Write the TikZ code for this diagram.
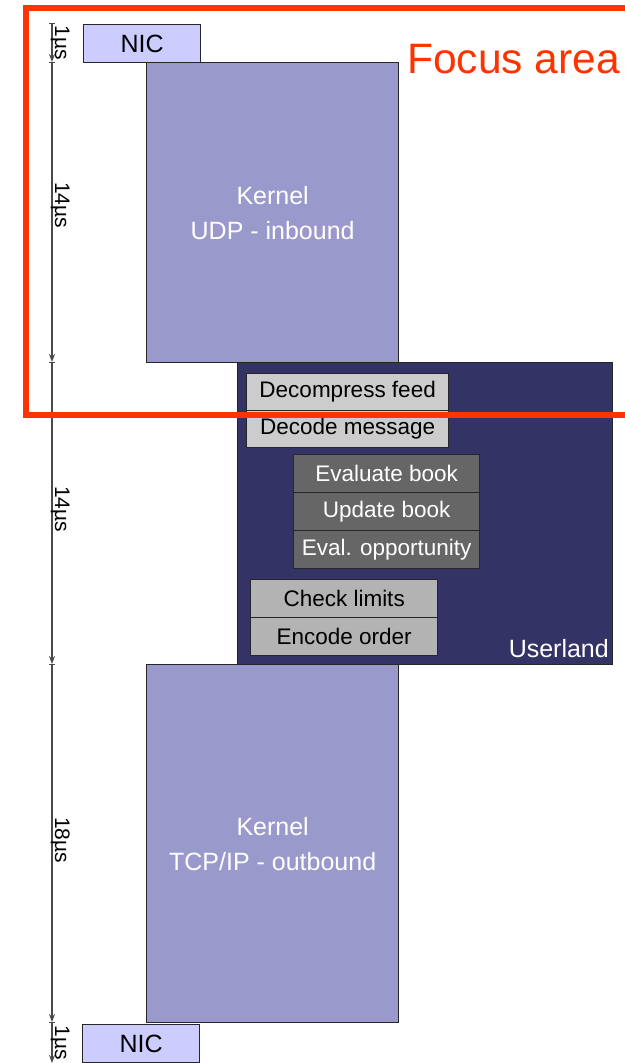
\documentclass[tikz,border=0pt]{standalone}
\usepackage{fontspec}
\setmainfont{Liberation Sans}
\usetikzlibrary{arrows.meta}
\definecolor{nicfill}{HTML}{CCCCFF}
\definecolor{kernfill}{HTML}{9999CC}
\definecolor{userfill}{HTML}{333366}
\definecolor{lightbox}{HTML}{CCCCCC}
\definecolor{darkbox}{HTML}{666666}
\definecolor{midbox}{HTML}{B3B3B3}
\definecolor{focusred}{HTML}{FF3300}
\definecolor{axisgray}{HTML}{4A4A4A}
\begin{document}
\begin{tikzpicture}[x=1bp,y=-1bp,
  box/.style={draw=black!85, line width=1.3bp, inner sep=0pt, anchor=north west, align=center},
  bigtext/.style={font=\fontsize{25bp}{35bp}\selectfont},
  smalltext/.style={font=\fontsize{22.5bp}{27bp}\selectfont},
  nicbox/.style={box, bigtext, fill=nicfill, text=black, minimum width=117bp, minimum height=38bp},
  kernbox/.style={box, bigtext, fill=kernfill, text=white, minimum width=252bp},
  lightstep/.style={box, smalltext, fill=lightbox, text=black, minimum width=202bp, minimum height=37bp},
  darkstep/.style={box, smalltext, fill=darkbox, text=white, minimum width=186bp, minimum height=38bp},
  midstep/.style={box, smalltext, fill=midbox, text=black, minimum width=187bp, minimum height=38bp},
  dimline/.style={draw=axisgray, line width=1.3bp, {Bar[width=6bp,line width=1bp]}-{Stealth[length=8bp,width=6bp]}},
  tlabel/.style={rotate=-90, anchor=base, inner sep=0pt, text=black, font=\fontsize{21bp}{24bp}\selectfont},
]
\useasboundingbox (0,0) rectangle (625,1063);
\fill[white] (0,0) rectangle (625,1063);

% main blocks
\node[kernbox, minimum height=300bp] (kudp) at (146,62) {Kernel\\UDP - inbound};
\node[nicbox] (nictop) at (83,24) {NIC};
\node[box, fill=userfill, minimum width=375bp, minimum height=302bp] (user) at (237,362) {};
\node[kernbox, minimum height=358bp] (ktcp) at (146,664) {Kernel\\TCP/IP - outbound};
\node[nicbox] (nicbot) at (82,1024) {NIC};

% userland steps
\node[lightstep] (decomp) at (246,373) {Decompress feed};
\node[lightstep] (decode) at (246,410) {Decode message};
\node[darkstep] (evbook) at (293,454) {Evaluate book};
\node[darkstep] (upbook) at (293,492) {Update book};
\node[darkstep] (evopp) at (293,530) {Eval. opportunity};
\node[midstep] (check) at (250,579) {Check limits};
\node[midstep] (encode) at (250,617) {Encode order};
\node[anchor=base east, inner sep=0pt, text=white, font=\fontsize{25bp}{30bp}\selectfont] (userlbl) at (609,657) {Userland};

% time axis
\coordinate (t0) at (52,23);
\coordinate (t1) at (52,62);
\coordinate (t2) at (52,362);
\coordinate (t3) at (52,664);
\coordinate (t4) at (52,1022);
\coordinate (t5) at (52,1063);
\draw[dimline] (t0) -- (t1);
\draw[dimline] (t1) -- (t2);
\draw[dimline] (t2) -- (t3);
\draw[dimline] (t3) -- (t4);
\draw[dimline] (t4) -- (t5);
\node[tlabel] (l1) at (55,43) {1µs};
\node[tlabel] (l2) at (55,205) {14µs};
\node[tlabel] (l3) at (55,509) {14µs};
\node[tlabel] (l4) at (55,840) {18µs};
\node[tlabel] (l5) at (55,1043) {1µs};

% focus area
\draw[draw=focusred, line width=6bp] (25.5,8) rectangle (660,415);
\node[anchor=base west, inner sep=0pt, text=focusred, font=\fontsize{42.5bp}{48bp}\selectfont] (focus) at (407,73) {Focus area};
\end{tikzpicture}
\end{document}
